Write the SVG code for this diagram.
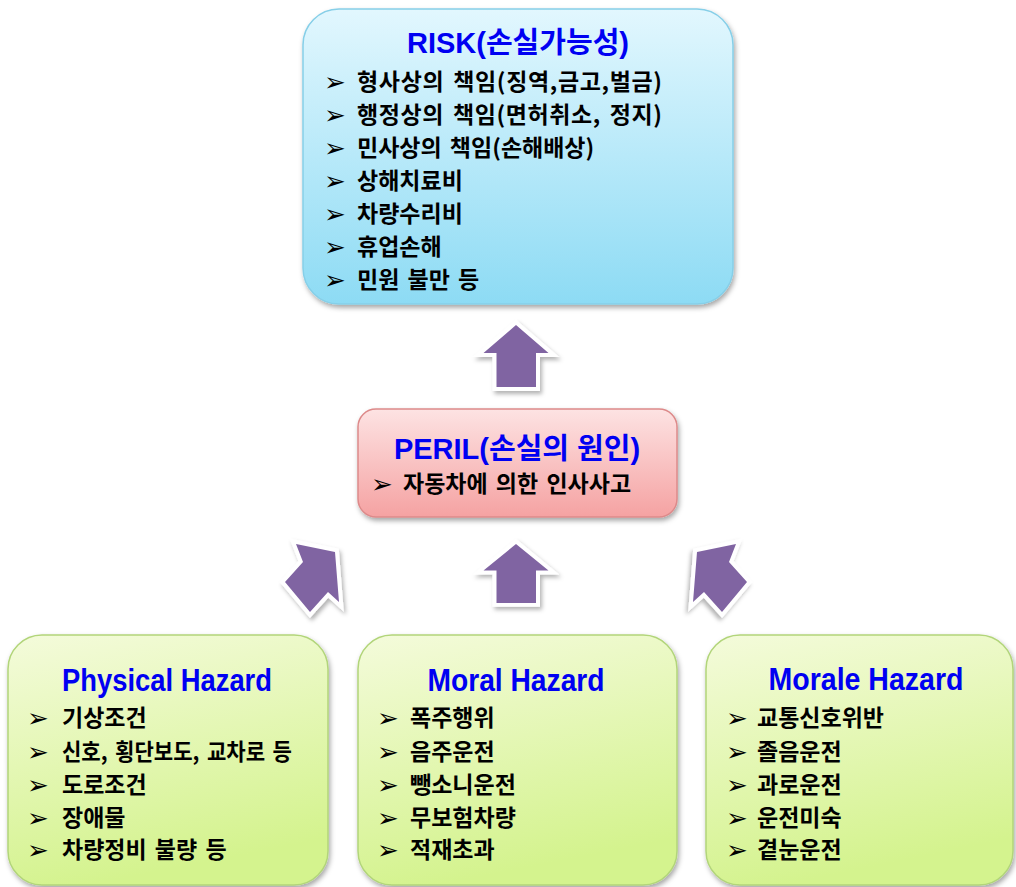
<svg xmlns="http://www.w3.org/2000/svg" xmlns:xlink="http://www.w3.org/1999/xlink" width="1016" height="887" viewBox="0 0 1016 887">
  <defs>
    <linearGradient id="gBlue" x1="0" y1="0" x2="0" y2="1">
      <stop offset="0" stop-color="#e2f7fe"/>
      <stop offset="1" stop-color="#8ddbf4"/>
    </linearGradient>
    <linearGradient id="gPink" x1="0" y1="0" x2="0" y2="1">
      <stop offset="0" stop-color="#fde3e3"/>
      <stop offset="1" stop-color="#f5a2a2"/>
    </linearGradient>
    <linearGradient id="gGreen" x1="0" y1="0" x2="0.25" y2="1">
      <stop offset="0" stop-color="#f4fbdb"/>
      <stop offset="1" stop-color="#d4f38e"/>
    </linearGradient>
    <filter id="boxShadow" x="-10%" y="-10%" width="120%" height="125%">
      <feDropShadow dx="1.5" dy="3" stdDeviation="2.5" flood-color="#000" flood-opacity="0.35"/>
    </filter>
    <filter id="arrowShadow" x="-30%" y="-30%" width="160%" height="160%">
      <feDropShadow dx="2" dy="3" stdDeviation="2" flood-color="#000" flood-opacity="0.3"/>
    </filter>
    <!-- vertical up arrow, tip at origin -->
    <polygon id="upArrow" points="0,0 32.5,28 20,28 20,62 -19.5,62 -19.5,28 -32.5,28"/>
    <!-- tilted arrow pointing up-right -->
    <polygon id="tiltArrow" points="296,544 335,552 339,602 328,592 310,612 285,582 303,562"/>
  </defs>
  <style>
    .box-blue { fill: url(#gBlue); stroke: #86cfe8; stroke-width: 1.5; filter: url(#boxShadow); }
    .box-pink { fill: url(#gPink); stroke: #dd8a8a; stroke-width: 1.5; filter: url(#boxShadow); }
    .box-green { fill: url(#gGreen); stroke: #b2d57a; stroke-width: 1.5; filter: url(#boxShadow); }
    .title { font-family: "Liberation Sans", "Noto Sans CJK KR", sans-serif; font-weight: bold; font-size: 29px; fill: #0000f2; text-anchor: middle; }
    .htitle { font-family: "Liberation Sans", sans-serif; font-weight: bold; font-size: 32px; fill: #0000f2; text-anchor: middle; }
    .item { font-family: "Noto Sans CJK KR", sans-serif; font-weight: bold; font-size: 23px; fill: #000; word-spacing: 3px; }
    .bullet { font-family: "DejaVu Sans", sans-serif; font-size: 26px; fill: #000; }
    .arrow-edge { fill: #fff; stroke: #fff; stroke-width: 8; stroke-linejoin: miter; filter: url(#arrowShadow); }
    .arrow-fill { fill: #8064a2; }
  </style>

  <!-- RISK -->
  <g id="node-risk">
    <rect class="box-blue" x="303" y="9" width="430" height="295" rx="36" ry="36"/>
    <text class="title" x="518" y="53">RISK(손실가능성)</text>
    <g class="bullet">
      <text x="324" y="91">➢</text>
      <text x="324" y="124">➢</text>
      <text x="324" y="157">➢</text>
      <text x="324" y="190">➢</text>
      <text x="324" y="223">➢</text>
      <text x="324" y="256">➢</text>
      <text x="324" y="289">➢</text>
    </g>
    <text class="item" x="357" y="90" textLength="305">형사상의 책임(징역,금고,벌금)</text>
    <text class="item" x="357" y="123" textLength="305">행정상의 책임(면허취소, 정지)</text>
    <text class="item" x="357" y="156">민사상의 책임(손해배상)</text>
    <text class="item" x="357" y="189">상해치료비</text>
    <text class="item" x="357" y="222">차량수리비</text>
    <text class="item" x="357" y="255">휴업손해</text>
    <text class="item" x="357" y="288">민원 불만 등</text>
  </g>

  <!-- PERIL -->
  <g id="node-peril">
    <rect class="box-pink" x="358" y="409" width="319" height="108" rx="18" ry="18"/>
    <text class="title" x="517" y="459">PERIL(손실의 원인)</text>
    <text class="bullet" x="371" y="493">➢</text>
    <text class="item" x="403" y="492">자동차에 의한 인사사고</text>
  </g>

  <!-- Physical Hazard -->
  <g id="node-physical">
    <rect class="box-green" x="8" y="635" width="320" height="250" rx="34" ry="34"/>
    <text class="htitle" x="167" y="691" textLength="210" lengthAdjust="spacingAndGlyphs">Physical Hazard</text>
    <g class="bullet">
      <text x="27" y="727">➢</text>
      <text x="27" y="761">➢</text>
      <text x="27" y="794">➢</text>
      <text x="27" y="827">➢</text>
      <text x="27" y="859">➢</text>
    </g>
    <text class="item" x="62" y="726">기상조건</text>
    <text class="item" x="62" y="760" textLength="230" lengthAdjust="spacingAndGlyphs">신호, 횡단보도, 교차로 등</text>
    <text class="item" x="62" y="793">도로조건</text>
    <text class="item" x="62" y="826">장애물</text>
    <text class="item" x="62" y="858">차량정비 불량 등</text>
  </g>

  <!-- Moral Hazard -->
  <g id="node-moral">
    <rect class="box-green" x="358" y="635" width="319" height="250" rx="34" ry="34"/>
    <text class="htitle" x="516" y="691" textLength="177" lengthAdjust="spacingAndGlyphs">Moral Hazard</text>
    <g class="bullet">
      <text x="377" y="727">➢</text>
      <text x="377" y="761">➢</text>
      <text x="377" y="794">➢</text>
      <text x="377" y="827">➢</text>
      <text x="377" y="859">➢</text>
    </g>
    <text class="item" x="410" y="726">폭주행위</text>
    <text class="item" x="410" y="760">음주운전</text>
    <text class="item" x="410" y="793">뺑소니운전</text>
    <text class="item" x="410" y="826">무보험차량</text>
    <text class="item" x="410" y="858">적재초과</text>
  </g>

  <!-- Morale Hazard -->
  <g id="node-morale">
    <rect class="box-green" x="706" y="635" width="307" height="250" rx="34" ry="34"/>
    <text class="htitle" x="866" y="690" textLength="195" lengthAdjust="spacingAndGlyphs">Morale Hazard</text>
    <g class="bullet">
      <text x="726" y="727">➢</text>
      <text x="726" y="761">➢</text>
      <text x="726" y="794">➢</text>
      <text x="726" y="827">➢</text>
      <text x="726" y="859">➢</text>
    </g>
    <text class="item" x="757" y="726">교통신호위반</text>
    <text class="item" x="757" y="760">졸음운전</text>
    <text class="item" x="757" y="793">과로운전</text>
    <text class="item" x="757" y="826">운전미숙</text>
    <text class="item" x="757" y="858">곁눈운전</text>
  </g>

  <!-- connectors: block arrows -->
  <g id="connectors">
    <g id="arrow-peril-risk" transform="translate(516,325)">
      <use xlink:href="#upArrow" class="arrow-edge"/>
      <use xlink:href="#upArrow" class="arrow-fill"/>
    </g>
    <g id="arrow-moral-peril" transform="translate(516,544) scale(1,0.95)">
      <use xlink:href="#upArrow" class="arrow-edge"/>
      <use xlink:href="#upArrow" class="arrow-fill"/>
    </g>
    <g id="arrow-physical-peril">
      <use xlink:href="#tiltArrow" class="arrow-edge"/>
      <use xlink:href="#tiltArrow" class="arrow-fill"/>
    </g>
    <g id="arrow-morale-peril" transform="translate(1032,0) scale(-1,1)">
      <use xlink:href="#tiltArrow" class="arrow-edge"/>
      <use xlink:href="#tiltArrow" class="arrow-fill"/>
    </g>
  </g>
</svg>
